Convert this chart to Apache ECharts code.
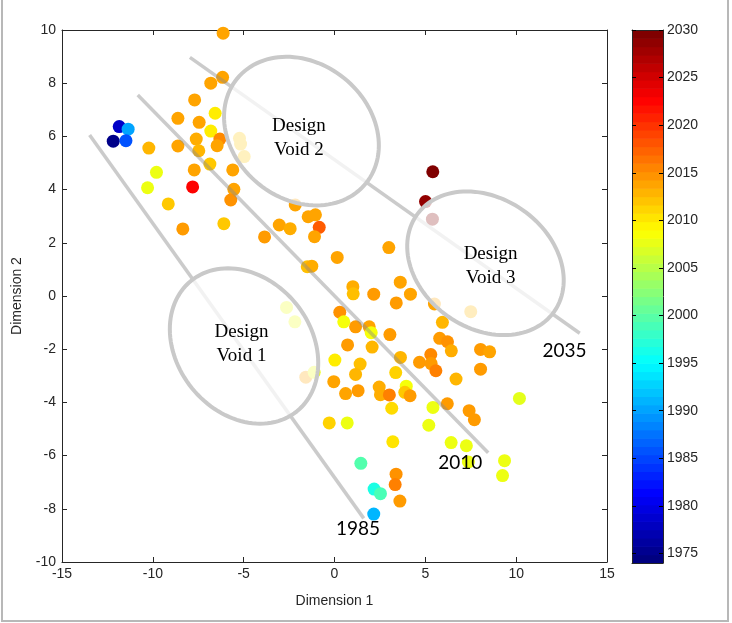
<!DOCTYPE html>
<html>
<head>
<meta charset="utf-8">
<script src="https://cdn.jsdelivr.net/npm/echarts@6/dist/echarts.min.js"></script>
<style>
  html, body { margin: 0; padding: 0; background: #fff; }
  #main { width: 732px; height: 623px; }
</style>
</head>
<body>
<div id="main"></div>
<script>
// design points: position in the 2-D map and model year (colour)
const dim1 = [
  -6.13, -6.16, -6.81, -7.70, -6.57, -8.62, -7.45, -6.81, -11.85, -11.36,
  -12.18, -11.48, -10.22, -8.62, -7.61, -6.31, -6.46, -7.47, -5.23, -5.17,
  -4.97, -6.86, -7.72, -5.60, -9.80, -10.29, -7.81, -5.54, -5.71, -9.15,
  -2.16, -8.35, -6.09, -3.04, -2.44, -3.85, -1.45, -1.05, -0.84, -1.10,
  -1.50, -1.25, 0.15, 5.41, 5.01, 5.39, 2.99, 3.62, 1.01, 1.03,
  2.16, 4.18, 3.40, 5.50, 7.50, 0.29, 0.51, 1.16, 1.91, 2.02,
  3.05, 5.94, 5.79, 6.22, 6.43, 8.04, 8.54, 5.30, 4.68, 5.32,
  5.58, 8.04, 6.69, 0.72, 2.07, 0.02, 1.41, 1.16, 3.63, 3.37,
  -1.58, -1.12, -0.04, 0.61, 1.30, 2.46, 2.53, 3.02, 3.95, 3.87,
  4.16, 3.15, -0.29, 0.70, 10.18, 6.21, 5.42, 7.41, 7.70, 5.19,
  3.21, 6.42, 7.26, 1.45, 7.37, 9.36, 9.25, 3.39, 3.34, 2.18,
  2.53, 3.60, 2.16, -2.64, -2.18
];
const dim2 = [
  9.88, 8.22, 8.00, 7.37, 6.87, 6.68, 6.53, 6.20, 6.37, 6.27,
  5.82, 5.84, 5.56, 5.64, 5.90, 5.90, 5.65, 5.46, 5.93, 5.71,
  5.24, 4.96, 4.74, 4.74, 4.65, 4.07, 4.10, 4.01, 3.61, 3.46,
  3.42, 2.52, 2.72, 2.67, 2.53, 2.22, 2.98, 3.05, 2.58, 2.23,
  1.10, 1.12, 1.45, 4.67, 3.55, 2.89, 1.82, 0.52, 0.35, 0.08,
  0.07, 0.07, -0.26, -0.30, -0.59, -0.61, -0.97, -1.16, -1.16, -1.38,
  -1.45, -0.99, -1.59, -1.72, -2.06, -2.01, -2.10, -2.20, -2.49, -2.54,
  -2.81, -2.75, -3.12, -1.84, -1.92, -2.41, -2.56, -2.95, -2.31, -2.88,
  -3.05, -2.87, -3.22, -3.67, -3.56, -3.42, -3.71, -3.72, -3.39, -3.62,
  -3.75, -4.22, -4.77, -4.77, -3.85, -4.05, -4.19, -4.31, -4.65, -4.86,
  -5.48, -5.51, -5.63, -6.29, -6.24, -6.19, -6.75, -6.70, -7.09, -7.26,
  -7.43, -7.71, -8.20, -0.43, -0.97
];
const year = [
  2014, 2014, 2014, 2014, 2010, 2014, 2014, 2010, 1978, 1990,
  1974.5, 1985.5, 2013, 2014, 2013.5, 2015.5, 2014, 2013, 2012, 2012,
  2012, 2012, 2014, 2014, 2008, 2008, 2023, 2014, 2015, 2012,
  2014, 2014.5, 2012, 2014, 2013.5, 2014.5, 2014, 2014, 2018, 2014,
  2012.5, 2013.5, 2014, 2030, 2029, 2030, 2014, 2014, 2013.5, 2012.5,
  2014.5, 2014, 2014.5, 2014, 2013, 2015, 2008.5, 2014.5, 2014, 2008.5,
  2014.5, 2013, 2014.5, 2015, 2013.5, 2014.5, 2014, 2015.5, 2014.5, 2014.5,
  2016, 2014.5, 2013, 2014.5, 2013, 2010, 2012.5, 2013, 2013, 2011.5,
  2014, 2008, 2014, 2014, 2014.5, 2013.5, 2013.5, 2016, 2008.5, 2012,
  2014.5, 2011, 2011.5, 2008, 2007.5, 2014.5, 2008, 2014.5, 2014.5, 2008,
  2010.5, 2008, 2008, 1999.5, 2008, 2008, 2008, 2015, 2016, 1996.5,
  1999, 2014.5, 1991, 2008, 2008
];

// axes and colour bar
const cbarTicks = [1975, 1980, 1985, 1990, 1995, 2000, 2005, 2010, 2015, 2020, 2025, 2030];
const cbarMin = 1974;
const cbarMax = 2030;
const nColors = 64;

// trend lines (data coords) and their year labels
const lineNames = ['1985', '2010', '2035'];
const lineStart = [[-13.48, 6.05], [-10.83, 7.56], [-7.96, 8.97]];
const lineEnd = [[1.61, -8.36], [8.46, -5.89], [13.5, -1.40]];
const lineLabelAt = [[1.29, -8.76], [6.92, -6.26], [12.66, -2.05]];

// design voids: centre (data coords), text
const voidNames = ['Design\nVoid 1', 'Design\nVoid 2', 'Design\nVoid 3'];
const voidCenter = [[-4.98, -1.88], [-1.82, 6.20], [8.31, 1.23]];
const voidTextAt = [[-5.12, -1.82], [-1.96, 5.94], [8.59, 1.13]];
// ellipse shape in px: semi-major, semi-minor, tilt (deg)
const voidShape = [[84, 67, 51], [83, 68, 39], [84, 65, 35]];

function clamp(v) { return Math.max(0, Math.min(1, v)); }
function jet(t) {
  const r = clamp(1.5 - Math.abs(4 * t - 3));
  const g = clamp(1.5 - Math.abs(4 * t - 2));
  const b = clamp(1.5 - Math.abs(4 * t - 1));
  return 'rgb(' + Math.round(r * 255) + ',' + Math.round(g * 255) + ',' + Math.round(b * 255) + ')';
}
const jetColors = [];
for (let i = 0; i < nColors; i++) jetColors.push(jet(i / (nColors - 1)));

const points = dim1.map((x, i) => [x, dim2[i], year[i]]);
const bands = jetColors.map((c, i) => [i]);

const axisColor = '#262626';
const fontFam = '"Liberation Sans", Arial, sans-serif';

const dom = document.getElementById('main');
const chart = echarts.init(dom, null, { renderer: 'canvas' });

const option = {
  backgroundColor: '#fff',
  animation: false,
  graphic: [{
    type: 'rect',
    shape: { x: 2, y: -4, width: 726, height: 625 },
    style: { fill: 'none', stroke: '#b8b8b8', lineWidth: 2 },
    silent: true
  }],
  grid: [
    { left: 62, right: 125, top: 30, bottom: 61 },
    { left: 632, width: 31, top: 30, bottom: 60 }
  ],
  xAxis: [
    {
      gridIndex: 0, type: 'value', min: -15, max: 15, interval: 5, position: 'bottom',
      name: 'Dimension 1', nameLocation: 'middle', nameGap: 32,
      nameTextStyle: { fontFamily: fontFam, fontSize: 14, color: axisColor },
      axisLine: { show: true, onZero: false, lineStyle: { color: axisColor, width: 1 } },
      axisTick: { show: true, inside: true, length: 5, lineStyle: { color: axisColor } },
      axisLabel: { fontFamily: fontFam, fontSize: 14, color: axisColor, margin: 5 },
      splitLine: { show: false }
    },
    {
      gridIndex: 0, type: 'value', min: -15, max: 15, interval: 5, position: 'top',
      axisLine: { show: true, onZero: false, lineStyle: { color: axisColor, width: 1 } },
      axisTick: { show: true, inside: true, length: 5, lineStyle: { color: axisColor } },
      axisLabel: { show: false },
      splitLine: { show: false }
    },
    {
      gridIndex: 1, type: 'value', min: 0, max: 1, position: 'bottom', z: 10,
      axisLine: { show: true, onZero: false, lineStyle: { color: axisColor, width: 1 } },
      axisTick: { show: false }, axisLabel: { show: false }, splitLine: { show: false }
    },
    {
      gridIndex: 1, type: 'value', min: 0, max: 1, position: 'top', z: 10,
      axisLine: { show: true, onZero: false, lineStyle: { color: axisColor, width: 1 } },
      axisTick: { show: false }, axisLabel: { show: false }, splitLine: { show: false }
    }
  ],
  yAxis: [
    {
      gridIndex: 0, type: 'value', min: -10, max: 10, interval: 2, position: 'left',
      name: 'Dimension 2', nameLocation: 'middle', nameGap: 38,
      nameTextStyle: { fontFamily: fontFam, fontSize: 14, color: axisColor },
      axisLine: { show: true, onZero: false, lineStyle: { color: axisColor, width: 1 } },
      axisTick: { show: true, inside: true, length: 5, lineStyle: { color: axisColor } },
      axisLabel: { fontFamily: fontFam, fontSize: 14, color: axisColor, margin: 6 },
      splitLine: { show: false }
    },
    {
      gridIndex: 0, type: 'value', min: -10, max: 10, interval: 2, position: 'right',
      axisLine: { show: true, onZero: false, lineStyle: { color: axisColor, width: 1 } },
      axisTick: { show: true, inside: true, length: 5, lineStyle: { color: axisColor } },
      axisLabel: { show: false },
      splitLine: { show: false }
    },
    {
      gridIndex: 1, type: 'value', min: cbarMin, max: cbarMax, position: 'left', z: 10,
      axisLine: { show: true, onZero: false, lineStyle: { color: axisColor, width: 1 } },
      axisTick: { show: true, inside: true, length: 4, customValues: cbarTicks, lineStyle: { color: '#000' } },
      axisLabel: { show: false },
      splitLine: { show: false }
    },
    {
      gridIndex: 1, type: 'value', min: cbarMin, max: cbarMax, position: 'right', z: 10,
      axisLine: { show: true, onZero: false, lineStyle: { color: axisColor, width: 1 } },
      axisTick: { show: true, inside: true, length: 4, customValues: cbarTicks, lineStyle: { color: '#000' } },
      axisLabel: {
        show: true, customValues: cbarTicks, fontFamily: fontFam, fontSize: 14, color: axisColor, margin: 4,
        formatter: function (v) { return String(v); }
      },
      splitLine: { show: false }
    }
  ],
  visualMap: {
    type: 'continuous',
    show: false,
    seriesIndex: 0,
    dimension: 2,
    min: cbarMin,
    max: cbarMax,
    inRange: { color: jetColors }
  },
  series: [
    {
      type: 'scatter',
      xAxisIndex: 0, yAxisIndex: 0,
      data: points,
      symbolSize: 13,
      z: 2,
      itemStyle: { opacity: 1 }
    },
    {
      // trend lines with their year labels
      type: 'custom',
      xAxisIndex: 0, yAxisIndex: 0,
      z: 3,
      silent: true,
      data: lineNames.map((n, i) => [i]),
      renderItem: function (params, api) {
        const i = api.value(0);
        const p0 = api.coord(lineStart[i]);
        const p1 = api.coord(lineEnd[i]);
        const pl = api.coord(lineLabelAt[i]);
        return {
          type: 'group',
          children: [
            {
              type: 'line',
              shape: { x1: p0[0], y1: p0[1], x2: p1[0], y2: p1[1] },
              style: { stroke: 'rgba(140,140,140,0.45)', lineWidth: 3.5 }
            },
            {
              type: 'text',
              z2: 20,
              style: {
                text: lineNames[i], x: pl[0], y: pl[1],
                align: 'center', verticalAlign: 'middle',
                fontFamily: 'Lato, "Open Sans", sans-serif', fontSize: 19, fill: '#000'
              }
            }
          ]
        };
      }
    },
    {
      // design void ellipses, white translucent fill
      type: 'custom',
      xAxisIndex: 0, yAxisIndex: 0,
      z: 4,
      silent: true,
      data: voidNames.map((n, i) => [i]),
      renderItem: function (params, api) {
        const i = api.value(0);
        const c = api.coord(voidCenter[i]);
        const a = voidShape[i][0], b = voidShape[i][1];
        const th = voidShape[i][2] * Math.PI / 180;
        const pts = [];
        for (let k = 0; k < 120; k++) {
          const t = k / 120 * Math.PI * 2;
          pts.push([
            c[0] + a * Math.cos(t) * Math.cos(th) - b * Math.sin(t) * Math.sin(th),
            c[1] + a * Math.cos(t) * Math.sin(th) + b * Math.sin(t) * Math.cos(th)
          ]);
        }
        const pt = api.coord(voidTextAt[i]);
        return {
          type: 'group',
          children: [
            {
              type: 'polygon',
              shape: { points: pts },
              style: { fill: 'rgba(255,255,255,0.75)', stroke: '#c9c9c9', lineWidth: 4 }
            },
            {
              type: 'text',
              z2: 20,
              style: {
                text: voidNames[i], x: pt[0], y: pt[1],
                align: 'center', verticalAlign: 'middle',
                fontFamily: '"Liberation Serif", "Times New Roman", serif',
                fontSize: 19, lineHeight: 24, fill: '#000'
              }
            }
          ]
        };
      }
    },
    {
      // colour bar
      type: 'custom',
      xAxisIndex: 2, yAxisIndex: 2,
      z: 2,
      silent: true,
      data: bands,
      renderItem: function (params, api) {
        const i = api.value(0);
        const step = (cbarMax - cbarMin) / nColors;
        const lo = api.coord([0, cbarMin + i * step]);
        const hi = api.coord([1, cbarMin + (i + 1) * step]);
        return {
          type: 'rect',
          shape: { x: lo[0], y: hi[1], width: hi[0] - lo[0], height: lo[1] - hi[1] + 0.6 },
          style: { fill: jetColors[i] }
        };
      }
    }
  ]
};

chart.setOption(option);
window.addEventListener('resize', function () { chart.resize(); });
</script>
</body>
</html>
